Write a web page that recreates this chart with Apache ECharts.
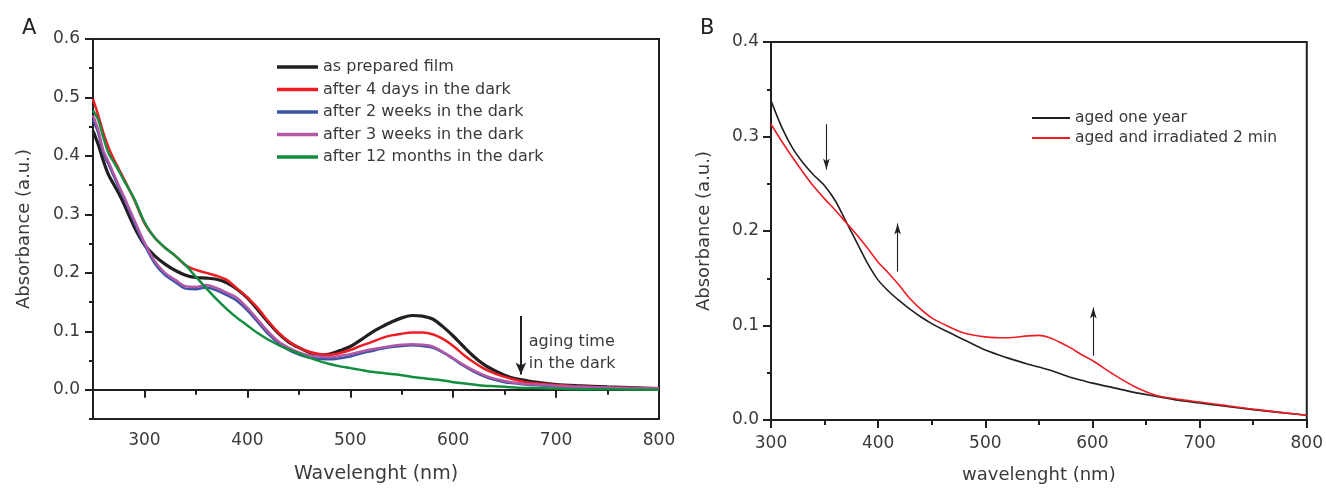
<!DOCTYPE html>
<html><head><meta charset="utf-8">
<script src="https://cdn.jsdelivr.net/npm/echarts@6/dist/echarts.min.js"></script>
<style>html,body{margin:0;padding:0;background:#fff}#c{width:1326px;height:489px}</style>
</head><body><div id="c"></div>
<script>
// ---------- Panel A data ----------
const wlA = [250,255,260,265,270,275,280,290,300,310,320,330,340,350,360,370,380,390,400,410,420,430,440,450,460,470,480,490,500,510,520,530,540,550,560,570,580,590,600,610,620,630,640,650,660,670,680,700,720,750,800];
const asPrepared = [0.443,0.42,0.392,0.368,0.352,0.336,0.318,0.279,0.248,0.229,0.215,0.204,0.196,0.192,0.191,0.189,0.183,0.172,0.157,0.137,0.116,0.097,0.082,0.072,0.064,0.059,0.061,0.067,0.074,0.085,0.097,0.107,0.116,0.123,0.127,0.126,0.121,0.108,0.092,0.074,0.057,0.043,0.033,0.025,0.019,0.016,0.013,0.009,0.007,0.005,0.002];
const after4days = [0.497,0.47,0.44,0.415,0.395,0.378,0.361,0.325,0.285,0.26,0.243,0.229,0.213,0.205,0.2,0.195,0.188,0.173,0.158,0.14,0.118,0.098,0.083,0.072,0.065,0.061,0.06,0.063,0.068,0.075,0.081,0.088,0.093,0.096,0.098,0.098,0.095,0.087,0.075,0.06,0.047,0.036,0.028,0.022,0.017,0.013,0.011,0.008,0.006,0.004,0.002];
const after2weeks = [0.462,0.44,0.405,0.386,0.366,0.346,0.328,0.287,0.248,0.216,0.196,0.184,0.173,0.172,0.175,0.17,0.162,0.152,0.136,0.116,0.096,0.08,0.068,0.06,0.055,0.053,0.052,0.054,0.057,0.062,0.066,0.07,0.073,0.075,0.076,0.075,0.072,0.064,0.053,0.041,0.031,0.023,0.017,0.013,0.011,0.009,0.008,0.006,0.005,0.003,0.001];
const after3weeks = [0.469,0.445,0.41,0.39,0.37,0.35,0.331,0.291,0.252,0.22,0.2,0.188,0.177,0.176,0.179,0.174,0.166,0.157,0.14,0.12,0.1,0.083,0.072,0.064,0.059,0.057,0.056,0.058,0.061,0.065,0.069,0.072,0.075,0.077,0.078,0.077,0.074,0.065,0.054,0.043,0.033,0.025,0.019,0.015,0.012,0.01,0.009,0.007,0.005,0.004,0.002];
const after12months = [0.478,0.462,0.432,0.405,0.39,0.375,0.358,0.327,0.287,0.26,0.243,0.229,0.213,0.193,0.174,0.155,0.138,0.123,0.11,0.097,0.086,0.077,0.069,0.062,0.055,0.049,0.044,0.04,0.037,0.034,0.031,0.029,0.027,0.025,0.022,0.02,0.018,0.016,0.013,0.011,0.009,0.007,0.006,0.005,0.004,0.003,0.003,0.002,0.001,0.001,0.0];
const namesA = ['as prepared film','after 4 days in the dark','after 2 weeks in the dark','after 3 weeks in the dark','after 12 months in the dark'];
const xTicksA = [300,400,500,600,700,800];
const xMinorA = [250,350,450,550,650,750];
const yTicksA = [0,0.1,0.2,0.3,0.4,0.5,0.6];
const yMinorA = [-0.05,0.05,0.15,0.25,0.35,0.45,0.55];
const arrowA = [665.8, 0.126, 665.8, 0.026];
const noteA = [673.5, 0.063, 'aging time\nin the dark'];

// ---------- Panel B data ----------
const wlB = [300,310,320,330,340,350,360,370,380,390,400,410,420,430,440,450,460,480,500,520,540,550,560,570,580,590,600,620,640,660,680,700,720,750,800];
const agedOneYear = [0.338,0.31,0.288,0.272,0.259,0.248,0.232,0.21,0.188,0.166,0.148,0.136,0.126,0.117,0.109,0.102,0.096,0.085,0.074,0.066,0.059,0.056,0.053,0.049,0.045,0.042,0.039,0.034,0.029,0.025,0.021,0.018,0.015,0.011,0.005];
const agedIrradiated = [0.313,0.295,0.278,0.262,0.247,0.234,0.222,0.209,0.196,0.182,0.167,0.155,0.142,0.128,0.117,0.108,0.102,0.092,0.088,0.087,0.089,0.0895,0.087,0.082,0.076,0.069,0.063,0.048,0.035,0.026,0.022,0.019,0.016,0.0115,0.005];
const namesB = ['aged one year','aged and irradiated 2 min'];
const arrowsB = [[351.7,0.313,351.7,0.265],[418.2,0.157,418.2,0.208],[600.8,0.068,600.8,0.119]];

const FONT = 'DejaVu Sans';
const TXT = '#3a3a3a';
const AX = '#231f20';
const pair = (xs, ys) => xs.map((x, i) => [x, ys[i]]);

const chart = echarts.init(document.getElementById('c'), null, {renderer:'canvas'});

const axisLineStyle = {show:true, lineStyle:{color:AX, width:2}};
const labelStyle = {color:TXT, fontSize:17, fontFamily:FONT};
const nameStyleX = {color:TXT, fontSize:19, fontFamily:FONT};
const nameStyleY = {color:TXT, fontSize:18, fontFamily:FONT};

const colorsA = [AX,'#ee1d23','#3a55a4','#b457a6','#138d3f'];
const dataA = [asPrepared, after4days, after2weeks, after3weeks, after12months];
const widthsA = [3.2,2.5,2.5,2.5,2.5];

const seriesA = namesA.map((n, i) => ({
  name:n, type:'line', xAxisIndex:0, yAxisIndex:0, data:pair(wlA, dataA[i]),
  symbol:'none', smooth:0.3, lineStyle:{color:colorsA[i], width:widthsA[i]}, itemStyle:{color:colorsA[i]},
  z: 2
}));
seriesA[0].markLine = {
  silent:true, symbol:['none','arrow'], symbolSize:[8,12], animation:false,
  lineStyle:{color:AX, width:2, type:'solid'}, label:{show:false},
  data:[[{coord:[arrowA[0],arrowA[1]]},{coord:[arrowA[2],arrowA[3]]}]]
};
seriesA[0].markPoint = {
  silent:true, symbol:'circle', symbolSize:0, animation:false,
  label:{show:true, position:'right', distance:0, formatter:noteA[2], color:TXT, fontSize:16, lineHeight:22, fontFamily:FONT, align:'left'},
  data:[{coord:[noteA[0], noteA[1]]}]
};

const seriesB = [
  {name:namesB[0], type:'line', xAxisIndex:2, yAxisIndex:2, data:pair(wlB, agedOneYear), symbol:'none', smooth:0.3,
   lineStyle:{color:AX, width:1.6}, itemStyle:{color:AX},
   markLine:{silent:true, symbol:['none','arrow'], symbolSize:[5,11], animation:false,
     lineStyle:{color:AX, width:1.1, type:'solid'}, label:{show:false},
     data: arrowsB.map(a => [{coord:[a[0],a[1]]},{coord:[a[2],a[3]]}])}},
  {name:namesB[1], type:'line', xAxisIndex:2, yAxisIndex:2, data:pair(wlB, agedIrradiated), symbol:'none', smooth:0.3,
   lineStyle:{color:'#ee1d23', width:1.6}, itemStyle:{color:'#ee1d23'}}
];

const option = {
  animation:false,
  backgroundColor:'#fff',
  textStyle:{fontFamily:FONT},
  title:[
    {text:'A', left:17, top:13, textStyle:{fontSize:21, fontWeight:'normal', color:'#222', fontFamily:FONT}},
    {text:'B', left:695, top:13, textStyle:{fontSize:21, fontWeight:'normal', color:'#222', fontFamily:FONT}}
  ],
  grid:[
    {left:93, top:39, width:566, height:381, show:true, borderColor:AX, borderWidth:2},
    {left:771, top:42, width:538, height:383, show:true, borderColor:AX, borderWidth:2}
  ],
  legend:[
    {data:namesA, orient:'vertical', left:272, top:52, itemWidth:41, itemHeight:3.5, itemGap:2.5, icon:'rect',
     textStyle:{fontSize:16, lineHeight:20, color:TXT, fontFamily:FONT}},
    {data:namesB, orient:'vertical', left:1027, top:104, itemWidth:38, itemHeight:2, itemGap:2, icon:'rect',
     textStyle:{fontSize:15.5, lineHeight:18, color:TXT, fontFamily:FONT}}
  ],
  xAxis:[
    {type:'value', gridIndex:0, min:250, max:800, position:'bottom',
     name:'Wavelenght (nm)', nameLocation:'middle', nameGap:46, nameTextStyle:nameStyleX,
     axisLine:axisLineStyle, splitLine:{show:false},
     axisTick:{show:true, inside:false, length:8, customValues:xTicksA, lineStyle:{color:AX, width:2}},
     axisLabel:{show:true, margin:13, customValues:xTicksA, ...labelStyle}},
    {type:'value', gridIndex:0, min:250, max:800, position:'bottom',
     axisLine:{show:false}, splitLine:{show:false}, axisLabel:{show:false},
     axisTick:{show:true, inside:false, length:5, customValues:xMinorA, lineStyle:{color:AX, width:2}}},
    {type:'value', gridIndex:1, min:300, max:800, interval:100, position:'bottom',
     name:'wavelenght (nm)', nameLocation:'middle', nameGap:46, nameTextStyle:{...nameStyleX, fontSize:18},
     axisLine:axisLineStyle, splitLine:{show:false},
     axisTick:{show:true, inside:false, length:8, lineStyle:{color:AX, width:2}},
     minorTick:{show:true, splitNumber:2, length:5, lineStyle:{color:AX, width:2}},
     axisLabel:{show:true, margin:15, ...labelStyle}}
  ],
  yAxis:[
    {type:'value', gridIndex:0, min:-0.05, max:0.6, position:'left',
     name:'Absorbance (a.u.)', nameLocation:'middle', nameGap:60, nameTextStyle:nameStyleY,
     axisLine:axisLineStyle, splitLine:{show:false},
     axisTick:{show:true, inside:false, length:8, customValues:yTicksA, lineStyle:{color:AX, width:2}},
     axisLabel:{show:true, margin:13, customValues:yTicksA, formatter:v => v.toFixed(1), ...labelStyle}},
    {type:'value', gridIndex:0, min:-0.05, max:0.6, position:'left',
     axisLine:{show:false}, splitLine:{show:false}, axisLabel:{show:false},
     axisTick:{show:true, inside:false, length:4, customValues:yMinorA, lineStyle:{color:AX, width:2}}},
    {type:'value', gridIndex:1, min:0, max:0.4, interval:0.1, position:'left',
     name:'Absorbance (a.u.)', nameLocation:'middle', nameGap:58, nameTextStyle:nameStyleY,
     axisLine:axisLineStyle, splitLine:{show:false},
     axisTick:{show:true, inside:false, length:8, lineStyle:{color:AX, width:2}},
     minorTick:{show:true, splitNumber:2, length:4, lineStyle:{color:AX, width:2}},
     axisLabel:{show:true, margin:12, formatter:v => v.toFixed(1), ...labelStyle}}
  ],
  series:[...seriesA, ...seriesB]
};
chart.setOption(option);
</script></body></html>
